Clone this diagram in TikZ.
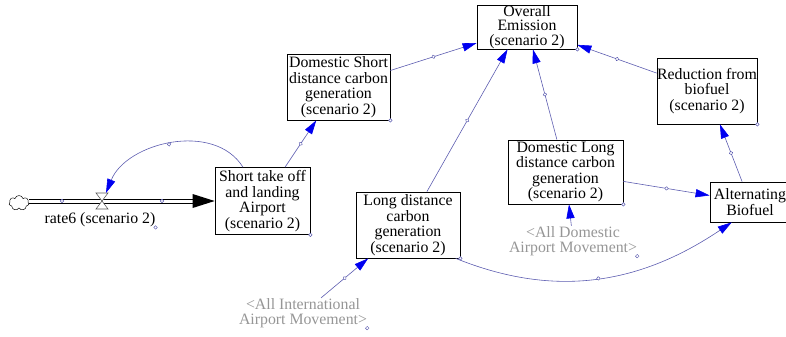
\documentclass[tikz,border=0pt]{standalone}
\usepackage{fontspec}
\setmainfont{Liberation Serif}
\usetikzlibrary{arrows.meta,calc,shapes.symbols,decorations.markings}
\definecolor{linkcol}{RGB}{90,90,175}
\definecolor{tipcol}{RGB}{0,0,240}
\definecolor{ghostcol}{RGB}{150,150,150}

\begin{document}
\begin{tikzpicture}[x=0.03cm,y=0.03cm,
  every node/.style={font=\fontsize{13.5}{13.2}\selectfont},
  var/.style={draw,line width=0.6pt,align=center,inner sep=0pt},
  ghost/.style={text=ghostcol,align=center,inner sep=0pt},
  link/.style={linkcol,line width=0.5pt,-{Triangle[length=12pt,width=7pt,color=tipcol]}},
  handle/.style={postaction={decorate},decoration={markings,mark=at position 0.5 with {\draw[linkcol,fill=white,line width=0.4pt,-] (0,0) circle (1.5pt);}}},
  dot/.style={linkcol,fill=white,line width=0.4pt},
  pipeline/.style={line width=0.5pt,black}]
\useasboundingbox (0,0) rectangle (786,-337);

% variables
\node[var,minimum width=3cm,minimum height=1.32cm,font=\fontsize{13.5}{12.4}\selectfont] (oe) at (527,-27) {Overall\\Emission\\(scenario 2)};
\node[var,minimum width=3.09cm,minimum height=1.98cm] (dsc) at (338.5,-87) {Domestic Short\\distance carbon\\generation\\(scenario 2)};
\node[var,minimum width=2.85cm,minimum height=2.01cm] (sta) at (262.5,-201) {Short take off\\and landing\\Airport\\(scenario 2)};
\node[var,minimum width=3.12cm,minimum height=1.98cm] (ldc) at (408,-225) {Long distance\\carbon\\generation\\(scenario 2)};
\node[var,minimum width=3.45cm,minimum height=1.92cm] (dlc) at (565.5,-172) {Domestic Long\\distance carbon\\generation\\(scenario 2)};
\node[var,minimum width=3cm,minimum height=1.98cm] (rfb) at (707,-91) {Reduction from\\biofuel\\(scenario 2)};
\node[var,minimum width=2.4cm,minimum height=1.2cm] (ab) at (750,-202) {Alternating\\Biofuel};

% shadow variables and rate
\node[ghost] (intmove) at (303,-313) {<All International\\Airport Movement>};
\node[ghost] (dommove) at (573,-241) {<All Domestic\\Airport Movement>};
\node[inner sep=0pt] (rate) at (100,-220) {rate6 (scenario 2)};

% flow
\node[cloud,draw,cloud puffs=7,cloud puff arc=150,aspect=1.3,minimum width=0.6cm,minimum height=0.45cm,inner sep=0pt] (src) at (19,-203) {};
\coordinate (head) at ($(sta.west)+(-22,0)$);
\coordinate (tail) at (src.east |- head);
\draw[pipeline] ($(tail)+(0,2)$) -- ($(head)+(0,2)$);
\draw[pipeline] ($(tail)+(0,-2)$) -- ($(head)+(0,-2)$);
\fill (sta.west) -- ++(-22,7) -- ++(0,-14) -- cycle;
\coordinate (valve) at (102,-201);
\coordinate (valvetop) at (106,-193);
\draw[fill=white,line width=0.5pt,draw=gray!70!black] (valve) -- ++(-6,8) -- ++(12,0) -- cycle (valve) -- ++(-6,-8) -- ++(12,0) -- cycle;
\draw[dot] (62,-201) circle (1.5pt);
\draw[dot] (162,-201) circle (1.5pt);

% links
\draw[link,handle] (sta.120) to[out=122,in=68] (valvetop);
\draw[link,handle] (sta) -- (dsc);
\draw[link,handle] (dsc) -- (oe);
\draw[link,handle] (ldc) -- (oe.229);
\draw[link,handle] (dlc) -- (oe);
\draw[link,handle] (rfb) -- (oe);
\draw[link,handle] (dlc) -- (ab);
\draw[link,handle] (ab) -- (rfb);
\draw[link,handle] (ldc.-35) to[out=-22,in=214] (ab.228);
\draw[link,handle] (intmove) -- (ldc);
\draw[link] (dommove) -- (dlc);

\foreach \n in {oe,dsc,sta,ldc,dlc,rfb,rate,intmove,dommove}
  \draw[dot] (\n.south east) circle (1.5pt);
\end{tikzpicture}
\end{document}
